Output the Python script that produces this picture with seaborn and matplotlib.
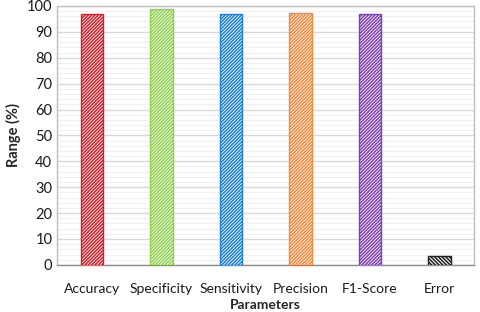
import matplotlib
matplotlib.use("Agg")
import matplotlib.pyplot as plt
from matplotlib.ticker import MultipleLocator
import seaborn as sns

# chart values
parameters = ["Accuracy", "Specificity", "Sensitivity", "Precision", "F1-Score", "Error"]
values = [96.7, 98.8, 96.7, 97.1, 96.7, 3.6]
colors = ["#D0202A", "#8FD14F", "#1F7FD0", "#F5883A", "#7D3FB0", "#202020"]
hatches = ["/" * 10] * 5 + ["\\" * 9]

sns.set_style("white")
plt.rcParams["font.family"] = ["Lato", "DejaVu Sans"]
plt.rcParams["hatch.linewidth"] = 1.1

fig = plt.figure(figsize=(4.8, 3.12), dpi=100)
ax = fig.add_axes([0.119, 0.151, 0.869, 0.830])

sns.barplot(x=parameters, y=values, hue=parameters, palette=colors,
            legend=False, width=0.32, ax=ax, zorder=3)

for patch, c, h in zip(ax.patches, colors, hatches):
    patch.set_facecolor("white")
    patch.set_edgecolor(c)
    patch.set_hatch(h)
    patch.set_linewidth(1.0)

ax.set_ylim(0, 100)
ax.set_xlim(-0.5, len(parameters) - 0.5)
ax.yaxis.set_major_locator(MultipleLocator(10))
ax.yaxis.set_minor_locator(MultipleLocator(2))
ax.grid(axis="y", which="major", color="#d9d9d9", linewidth=1.0, zorder=0)
ax.grid(axis="y", which="minor", color="#f0f0f0", linewidth=0.8, zorder=0)
ax.set_axisbelow(True)

for side in ["top", "left", "right"]:
    ax.spines[side].set_color("#bfbfbf")
ax.spines["bottom"].set_color("#8c8c8c")
for s in ax.spines.values():
    s.set_linewidth(1.0)

ax.tick_params(axis="both", which="both", length=0, labelsize=10.5, colors="#1a1a1a")
ax.tick_params(axis="x", labelsize=10, pad=13)
ax.set_xlabel("Parameters", fontsize=10, fontweight="bold", labelpad=3)
ax.set_ylabel("Range (%)", fontsize=10.5, fontweight="bold", labelpad=4)

fig.savefig("out.png", dpi=100)
